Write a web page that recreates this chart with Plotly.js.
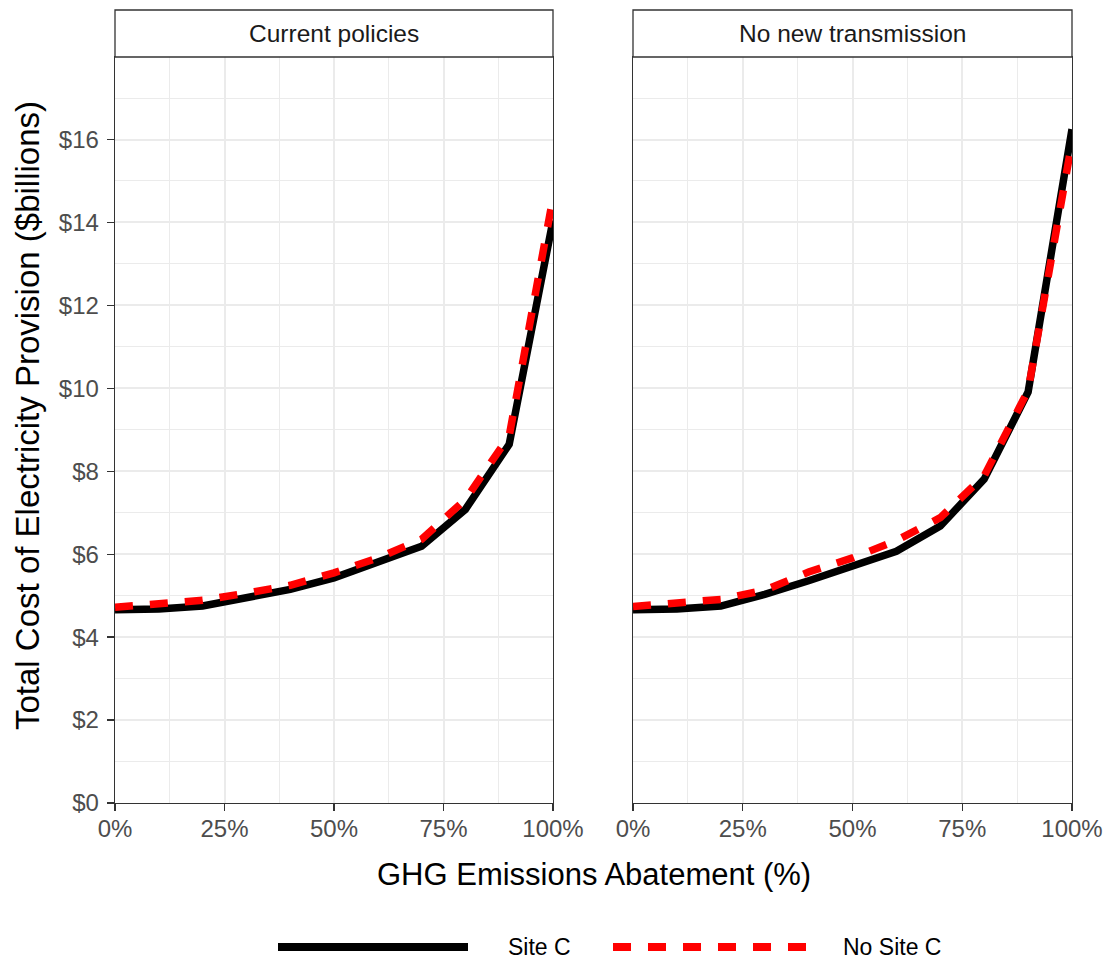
<!DOCTYPE html>
<html>
<head>
<meta charset="utf-8">
<script src="https://cdn.plot.ly/plotly-3.0.1.min.js"></script>
<style>html,body{margin:0;padding:0;background:#fff;}#chart{width:1111px;height:967px;}</style>
</head>
<body>
<div id="chart"></div>
<script>
// ---- data ----
const abatement = [0, 0.1, 0.2, 0.3, 0.4, 0.5, 0.6, 0.7, 0.8, 0.9, 1.0];
const currentSiteC   = [4.66, 4.68, 4.75, 4.94, 5.15, 5.43, 5.79, 6.19, 7.08, 8.65, 14.05];
const currentNoSiteC = [4.72, 4.79, 4.89, 5.06, 5.25, 5.55, 5.91, 6.36, 7.32, 8.85, 14.6];
const noTransSiteC   = [4.66, 4.68, 4.75, 5.03, 5.36, 5.70, 6.07, 6.68, 7.81, 9.91, 16.25];
const noTransNoSiteC = [4.74, 4.81, 4.91, 5.13, 5.57, 5.91, 6.33, 6.88, 7.89, 9.95, 15.95];
const panelNames = ["Current policies", "No new transmission"];
const seriesNames = ["Site C", "No Site C"];

// ---- style ----
const FONT = "Liberation Sans, Arial, sans-serif";
const LW = 7.5;
const DASH = "18px,17px";
const blackLine = {color: "#000000", width: LW, dash: "solid"};
const redLine = {color: "#FF0000", width: LW, dash: DASH};

const traces = [
  {x: abatement, y: currentSiteC, xaxis: "x", yaxis: "y", mode: "lines", name: seriesNames[0], line: blackLine, showlegend: false},
  {x: abatement, y: currentNoSiteC, xaxis: "x", yaxis: "y", mode: "lines", name: seriesNames[1], line: redLine, showlegend: false},
  {x: abatement, y: noTransSiteC, xaxis: "x2", yaxis: "y2", mode: "lines", name: seriesNames[0], line: blackLine, showlegend: false},
  {x: abatement, y: noTransNoSiteC, xaxis: "x2", yaxis: "y2", mode: "lines", name: seriesNames[1], line: redLine, showlegend: false}
];

const W = 1111, H = 967;
const mL = 115, mR = 39, mT = 57, mB = 164;
const plotW = W - mL - mR, plotH = H - mT - mB;
const px2x = p => (p - mL) / plotW;
const px2y = p => (H - mB - p) / plotH;

const d1 = [0, px2x(553)];
const d2 = [px2x(633), 1];

function xAxis(domain, anchor) {
  return {
    domain: domain, anchor: anchor, range: [0, 1], tickformat: ".0%", dtick: 0.25, tick0: 0,
    showgrid: true, gridcolor: "#EBEBEB", gridwidth: 2,
    minor: {dtick: 0.125, showgrid: true, gridcolor: "#EBEBEB", gridwidth: 1},
    showline: true, linecolor: "#333333", linewidth: 1.3, mirror: true,
    ticks: "outside", ticklen: 7, tickwidth: 1.3, tickcolor: "#333333",
    ticklabelstandoff: -3,
    tickfont: {family: FONT, size: 24, color: "#4D4D4D"}, zeroline: false, fixedrange: true
  };
}
function yAxis(anchor, labels) {
  return {
    domain: [0, 1], anchor: anchor, range: [0, 17.99], dtick: 2, tick0: 0, tickprefix: "$",
    showgrid: true, gridcolor: "#EBEBEB", gridwidth: 2,
    minor: {dtick: 1, showgrid: true, gridcolor: "#EBEBEB", gridwidth: 1},
    showline: true, linecolor: "#333333", linewidth: 1.3, mirror: true,
    ticks: labels ? "outside" : "", ticklen: 7, tickwidth: 1.3, tickcolor: "#333333",
    showticklabels: labels, ticklabelstandoff: 3,
    tickfont: {family: FONT, size: 24, color: "#4D4D4D"}, zeroline: false, fixedrange: true
  };
}

const stripTop = px2y(10);
const shapes = [
  {type: "rect", xref: "paper", yref: "paper", x0: d1[0], x1: d1[1], y0: 1, y1: stripTop, fillcolor: "#FFFFFF", line: {color: "#333333", width: 1.3}},
  {type: "rect", xref: "paper", yref: "paper", x0: d2[0], x1: d2[1], y0: 1, y1: stripTop, fillcolor: "#FFFFFF", line: {color: "#333333", width: 1.3}},
  // legend keys
  {type: "line", xref: "paper", yref: "paper", x0: px2x(278), x1: px2x(468), y0: px2y(947), y1: px2y(947), line: {color: "#000000", width: 8}},
  {type: "line", xref: "paper", yref: "paper", x0: px2x(613), x1: px2x(806), y0: px2y(947), y1: px2y(947), line: {color: "#FF0000", width: 8, dash: DASH}}
];

const annotations = [
  {xref: "paper", yref: "paper", x: (d1[0] + d1[1]) / 2, y: px2y(33.5), text: panelNames[0], showarrow: false, xanchor: "center", yanchor: "middle", font: {family: FONT, size: 24.5, color: "#1A1A1A"}},
  {xref: "paper", yref: "paper", x: (d2[0] + d2[1]) / 2, y: px2y(33.5), text: panelNames[1], showarrow: false, xanchor: "center", yanchor: "middle", font: {family: FONT, size: 24.5, color: "#1A1A1A"}},
  {xref: "paper", yref: "paper", x: px2x(594), y: px2y(874), text: "GHG Emissions Abatement (%)", showarrow: false, xanchor: "center", yanchor: "middle", font: {family: FONT, size: 31, color: "#000000"}},
  {xref: "paper", yref: "paper", x: px2x(27), y: px2y(416), text: "Total Cost of Electricity Provision ($billions)", textangle: -90, showarrow: false, xanchor: "center", yanchor: "middle", font: {family: FONT, size: 33, color: "#000000"}},
  {xref: "paper", yref: "paper", x: px2x(506), y: px2y(947), text: seriesNames[0], showarrow: false, xanchor: "left", yanchor: "middle", font: {family: FONT, size: 23, color: "#000000"}},
  {xref: "paper", yref: "paper", x: px2x(841), y: px2y(947), text: seriesNames[1], showarrow: false, xanchor: "left", yanchor: "middle", font: {family: FONT, size: 23, color: "#000000"}}
];

const layout = {
  width: W, height: H,
  margin: {l: mL, r: mR, t: mT, b: mB, pad: 0},
  paper_bgcolor: "#FFFFFF", plot_bgcolor: "#FFFFFF",
  font: {family: FONT},
  showlegend: false,
  xaxis: xAxis(d1, "y"),
  xaxis2: xAxis(d2, "y2"),
  yaxis: yAxis("x", true),
  yaxis2: yAxis("x2", false),
  shapes: shapes,
  annotations: annotations
};

Plotly.newPlot("chart", traces, layout, {staticPlot: true, displayModeBar: false});
</script>
</body>
</html>
